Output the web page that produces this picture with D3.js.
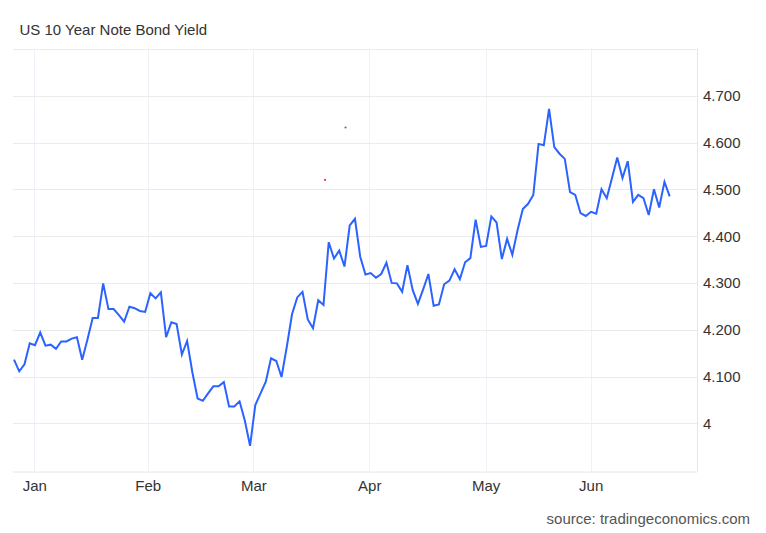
<!DOCTYPE html>
<html>
<head>
<meta charset="utf-8">
<script src="https://cdn.jsdelivr.net/npm/d3@7"></script>
<style>
  html, body { margin: 0; padding: 0; background: #ffffff; }
  svg { display: block; font-family: "Liberation Sans", Arial, Helvetica, sans-serif; }
</style>
</head>
<body>
<svg id="chart" width="766" height="533"></svg>
<script>
// ---- data ----
const chartTitle = "US 10 Year Note Bond Yield";
const sourceText = "source: tradingeconomics.com";

const yieldValues = [
  4.136, 4.111, 4.126, 4.171, 4.167, 4.194, 4.166, 4.168, 4.159, 4.175,
  4.175, 4.181, 4.184, 4.136, 4.179, 4.225, 4.225, 4.299, 4.244, 4.244,
  4.231, 4.217, 4.249, 4.246, 4.240, 4.238, 4.278, 4.267, 4.280, 4.184,
  4.216, 4.212, 4.147, 4.176, 4.109, 4.053, 4.048, 4.064, 4.079, 4.079,
  4.088, 4.036, 4.036, 4.047, 4.006, 3.952, 4.039, 4.064, 4.089, 4.139,
  4.133, 4.099, 4.163, 4.233, 4.269, 4.281, 4.222, 4.203, 4.263, 4.253,
  4.387, 4.352, 4.369, 4.335, 4.423, 4.437, 4.356, 4.318, 4.321, 4.311,
  4.319, 4.343, 4.300, 4.299, 4.281, 4.338, 4.285, 4.255, 4.286, 4.319,
  4.251, 4.254, 4.297, 4.305, 4.329, 4.308, 4.344, 4.353, 4.435, 4.377,
  4.379, 4.442, 4.429, 4.351, 4.394, 4.360, 4.413, 4.458, 4.469, 4.488,
  4.597, 4.594, 4.672, 4.590, 4.576, 4.565, 4.494, 4.488, 4.449, 4.443,
  4.452, 4.448, 4.500, 4.481, 4.524, 4.568, 4.524, 4.560, 4.473, 4.488,
  4.481, 4.445, 4.500, 4.461, 4.516, 4.485
];

// month labels and the (fractional) point index at which each month starts
const monthLabels = ["Jan", "Feb", "Mar", "Apr", "May", "Jun"];
const monthTickIndex = [3.87, 25.49, 45.62, 67.73, 89.92, 109.94];

// y axis ticks
const yTickValues = [4.0, 4.1, 4.2, 4.3, 4.4, 4.5, 4.6, 4.7];
const yTickLabels = ["4", "4.100", "4.200", "4.300", "4.400", "4.500", "4.600", "4.700"];
const yTopGrid = 4.8;
const yBottom = 3.9;

// small red event markers (index, value)
const markerIndex = [59.3, 63.2];
const markerValue = [4.520, 4.632];

// ---- layout ----
const plotLeft = 13, plotRight = 697, plotTop = 48.5, plotBottom = 471.5;
const svg = d3.select("#chart");

const x = d3.scaleLinear()
  .domain([0, yieldValues.length - 1])
  .range([14, 669.7]);

const y = d3.scaleLinear()
  .domain([yBottom, yTopGrid])
  .range([470.1, 48.9]);

// title
svg.append("text")
  .attr("x", 19.5).attr("y", 34.5)
  .attr("font-size", 15)
  .attr("fill", "#333333")
  .text(chartTitle);

// vertical month gridlines
svg.append("g").selectAll("line")
  .data(monthTickIndex)
  .join("line")
  .attr("x1", d => Math.round(x(d)) + 0.5).attr("x2", d => Math.round(x(d)) + 0.5)
  .attr("y1", plotTop).attr("y2", plotBottom)
  .attr("stroke", "#edf1f8").attr("stroke-width", 1);

// horizontal gridlines
svg.append("g").selectAll("line")
  .data(yTickValues.concat([yTopGrid]))
  .join("line")
  .attr("x1", plotLeft).attr("x2", plotRight)
  .attr("y1", d => Math.round(y(d)) + 0.5).attr("y2", d => Math.round(y(d)) + 0.5)
  .attr("stroke", "#ebebeb").attr("stroke-width", 1);

// bottom axis line
svg.append("line")
  .attr("x1", plotLeft).attr("x2", plotRight)
  .attr("y1", plotBottom + 0.5).attr("y2", plotBottom + 0.5)
  .attr("stroke", "#e6e6e6");

// right border line
svg.append("line")
  .attr("x1", plotRight + 0.5).attr("x2", plotRight + 0.5)
  .attr("y1", plotTop).attr("y2", plotBottom)
  .attr("stroke", "#e6e6e6");

// y axis labels (right)
const yAxis = d3.axisRight(y)
  .tickValues(yTickValues)
  .tickFormat((d, i) => yTickLabels[i])
  .tickSize(0)
  .tickPadding(6);
const gy = svg.append("g").attr("transform", `translate(${plotRight},0)`).call(yAxis);
gy.select(".domain").remove();
gy.selectAll("text")
  .attr("font-size", 15)
  .attr("font-family", "Liberation Sans, Arial, sans-serif")
  .attr("fill", "#333333")
  .attr("dy", "0.33em");

// x axis labels
const xAxis = d3.axisBottom(x)
  .tickValues(monthTickIndex)
  .tickFormat((d, i) => monthLabels[i])
  .tickSize(0)
  .tickPadding(8.8);
const gx = svg.append("g").attr("transform", `translate(0,${plotBottom})`).call(xAxis);
gx.select(".domain").remove();
gx.selectAll("text")
  .attr("font-size", 15)
  .attr("font-family", "Liberation Sans, Arial, sans-serif")
  .attr("fill", "#333333");

// line
const line = d3.line()
  .x((d, i) => x(i))
  .y(d => y(d));

svg.append("path")
  .datum(yieldValues)
  .attr("fill", "none")
  .attr("stroke", "#2b63ff")
  .attr("stroke-width", 2)
  .attr("stroke-linejoin", "miter")
  .attr("d", line);

// red markers
svg.append("g").selectAll("circle")
  .data(markerIndex)
  .join("circle")
  .attr("cx", d => x(d))
  .attr("cy", (d, i) => y(markerValue[i]))
  .attr("r", 1.1)
  .attr("fill", "#e53844");

// source
svg.append("text")
  .attr("x", 750).attr("y", 524)
  .attr("text-anchor", "end")
  .attr("font-size", 15)
  .attr("fill", "#555555")
  .text(sourceText);
</script>
</body>
</html>
